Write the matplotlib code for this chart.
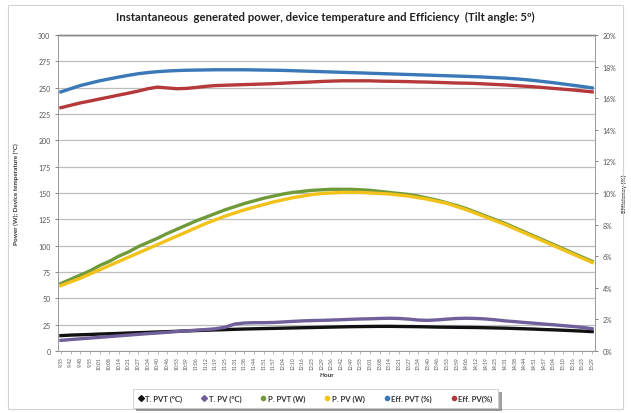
import matplotlib
matplotlib.use("Agg")
import matplotlib.pyplot as plt
from matplotlib.patches import Rectangle

plt.rcParams['font.family'] = ['Lato', 'DejaVu Sans']

hours = ['9:35', '9:42', '9:48', '9:55', '10:01', '10:08', '10:14', '10:21', '10:27', '10:34',
         '10:40', '10:46', '10:53', '10:59', '11:06', '11:12', '11:19', '11:25', '11:31', '11:38',
         '11:44', '11:51', '11:57', '12:04', '12:10', '12:16', '12:23', '12:29', '12:36', '12:42',
         '12:49', '12:55', '13:01', '13:08', '13:14', '13:21', '13:27', '13:34', '13:40', '13:46',
         '13:53', '13:59', '14:06', '14:12', '14:19', '14:25', '14:31', '14:38', '14:44', '14:51',
         '14:57', '15:04', '15:10', '15:16', '15:23', '15:29']

# device temperatures (ºC)
t_pvt = [14.5, 15, 15.3, 15.6, 16, 16.3, 16.6, 17, 17.3, 17.6,
         18, 18.3, 18.6, 19, 19.3, 19.6, 19.9, 20.2, 20.5, 20.8,
         21, 21.2, 21.4, 21.6, 21.8, 22, 22.2, 22.4, 22.6, 22.8,
         23, 23.1, 23.2, 23.3, 23.3, 23.2, 23.1, 23, 22.8, 22.6,
         22.5, 22.4, 22.3, 22.2, 22, 21.8, 21.6, 21.3, 21, 20.7,
         20.3, 20, 19.6, 19.2, 18.8, 18.3]
t_pv = [10, 10.8, 11.5, 12.2, 12.9, 13.6, 14.3, 15, 15.7, 16.4,
        17, 17.7, 18.4, 19, 19.7, 20.3, 21, 22.5, 25.5, 26.5,
        26.8, 26.8, 27, 27.5, 28, 28.5, 28.8, 29, 29.3, 29.6,
        30, 30.3, 30.5, 30.8, 31, 30.8, 30.2, 29.3, 29, 29.5,
        30.2, 30.8, 31, 30.8, 30.3, 29.5, 28.5, 27.8, 27, 26.3,
        25.5, 24.8, 24, 23.2, 22.3, 21]

# generated power (W)
p_pvt = [64, 68, 72, 76, 81, 85, 90, 94, 99, 103,
         107, 111.5, 115.5, 119.5, 123.5, 127, 130.5, 134, 137, 140,
         142.5, 145, 147, 149, 150.5, 151.5, 152.5, 153, 153.5, 153.5,
         153.5, 153, 152.5, 151.5, 150.5, 149.5, 148.5, 147, 145, 143,
         140.5, 138, 135, 131.5, 128, 124.5, 121, 117, 113, 109,
         105, 101, 97, 93, 89, 85]
p_pv = [62, 65.5, 69, 73, 77, 81, 85, 89, 93, 97,
        101, 105, 109, 113, 117, 121, 124.5, 128, 131, 134,
        136.5, 139, 141.5, 143.5, 145.5, 147, 148.5, 149.5, 150, 150.5,
        150.5, 150.5, 150, 149.5, 149, 148, 147, 145.5, 144, 142,
        140, 137, 134, 130.5, 127, 123.5, 120, 116, 112, 108,
        104, 100, 96, 92, 88, 84]

# efficiency (%)
eff_pvt = [16.4, 16.6, 16.8, 16.95, 17.1, 17.22, 17.34, 17.45, 17.55, 17.62,
           17.68, 17.72, 17.75, 17.77, 17.78, 17.79, 17.8, 17.8, 17.8, 17.8,
           17.79, 17.78, 17.77, 17.76, 17.74, 17.72, 17.7, 17.68, 17.66, 17.64,
           17.62, 17.6, 17.58, 17.56, 17.54, 17.52, 17.5, 17.48, 17.46, 17.44,
           17.42, 17.4, 17.38, 17.36, 17.33, 17.3, 17.27, 17.23, 17.18, 17.12,
           17.05, 16.98, 16.9, 16.82, 16.74, 16.65]
eff_pv = [15.4, 15.55, 15.7, 15.82, 15.95, 16.07, 16.2, 16.32, 16.45, 16.6,
          16.7, 16.65, 16.6, 16.62, 16.68, 16.75, 16.8, 16.82, 16.84, 16.86,
          16.88, 16.9, 16.92, 16.95, 16.98, 17.0, 17.03, 17.06, 17.08, 17.1,
          17.1, 17.1, 17.1, 17.08, 17.07, 17.06, 17.05, 17.03, 17.02, 17.0,
          16.98, 16.96, 16.95, 16.93, 16.9, 16.87, 16.84, 16.8, 16.76, 16.72,
          16.67, 16.62, 16.57, 16.52, 16.46, 16.4]

c_black = '#111111'
c_purple = '#6f5f9a'
c_green = '#6f9a3a'
c_yellow = '#f2c21b'
c_blue = '#3a78b8'
c_red = '#b5393a'

fig = plt.figure(figsize=(6.31, 4.14), dpi=100)
fig.patches.append(Rectangle((0.013, 0.01), 0.975, 0.975, transform=fig.transFigure,
                             fill=False, edgecolor='#d4d4d4', linewidth=0.8))

ax = fig.add_axes([0.092, 0.150, 0.851, 0.763])
ax2 = ax.twinx()

x = list(range(len(hours)))
lw = 2.4
ax.plot(x, t_pvt, color=c_black, lw=lw, label='T. PVT (ºC)', zorder=3)
ax.plot(x, t_pv, color=c_purple, lw=lw, label='T. PV (ºC)', zorder=3)
ax.plot(x, p_pvt, color=c_green, lw=lw, label='P. PVT (W)', zorder=3)
ax.plot(x, p_pv, color=c_yellow, lw=lw, label='P. PV (W)', zorder=3)
ax2.plot(x, eff_pvt, color=c_blue, lw=lw, label='Eff. PVT (%)')
ax2.plot(x, eff_pv, color=c_red, lw=lw, label='Eff. PV(%)')

ax.set_xlim(-0.3, len(hours) - 0.7)
ax.set_ylim(0, 300)
ax.set_yticks(range(0, 301, 25))
ax2.set_ylim(0, 20)
ax2.set_yticks(range(0, 21, 2))
ax2.set_yticklabels([f'{v}%' for v in range(0, 21, 2)])

ax.yaxis.grid(True, color='#bdbdbd', linewidth=0.9)
ax.set_axisbelow(True)
ax.set_xticks(x)
ax.set_xticklabels(hours, rotation=90, fontsize=3.6, color='#555555')

for a in (ax, ax2):
    a.tick_params(axis='y', labelsize=5, colors='#555555', length=2, width=0.5)
    for s in a.spines.values():
        s.set_color('#999999')
        s.set_linewidth(0.6)
ax.tick_params(axis='x', length=2, width=0.4, color='#888888', pad=1.5)
ax.spines['top'].set_color('#333333')
ax.spines['top'].set_linewidth(1.0)

ax.set_ylabel('Power (W); Device temperature (ºC)', fontsize=4.6, fontweight='bold',
              color='#333333', labelpad=14)
ax2.set_ylabel('Efficiency (%)', fontsize=4.6, fontweight='bold', color='#333333', labelpad=4)
ax.set_xlabel('Hour', fontsize=4.6, fontweight='bold', color='#333333', labelpad=2)

fig.text(0.515, 0.957, 'Instantaneous  generated power, device temperature and Efficiency  (Tilt angle: 5º)',
         ha='center', va='center', fontsize=8.2, fontweight='bold', color='#222222')

handles = ax.get_lines() + ax2.get_lines()
markers = ['D', 'D', 'o', 'o', 'o', 'o']
proxies = []
for h, m in zip(handles, markers):
    p, = ax.plot([], [], linestyle='-', color=h.get_color(), marker=m, markersize=3, lw=0.0)
    proxies.append(p)
leg = fig.legend(proxies, [h.get_label() for h in handles], loc='center',
                 bbox_to_anchor=(0.5, 0.035), ncol=6, fontsize=5.6, frameon=True,
                 fancybox=False, shadow=True, handlelength=0.6, handletextpad=0.3,
                 columnspacing=2.5, borderpad=0.7)
leg.get_frame().set_edgecolor('#cccccc')
leg.get_frame().set_linewidth(0.6)
for t in leg.get_texts():
    t.set_fontweight('bold')
    t.set_color('#333333')

fig.savefig('out.png', dpi=100)
